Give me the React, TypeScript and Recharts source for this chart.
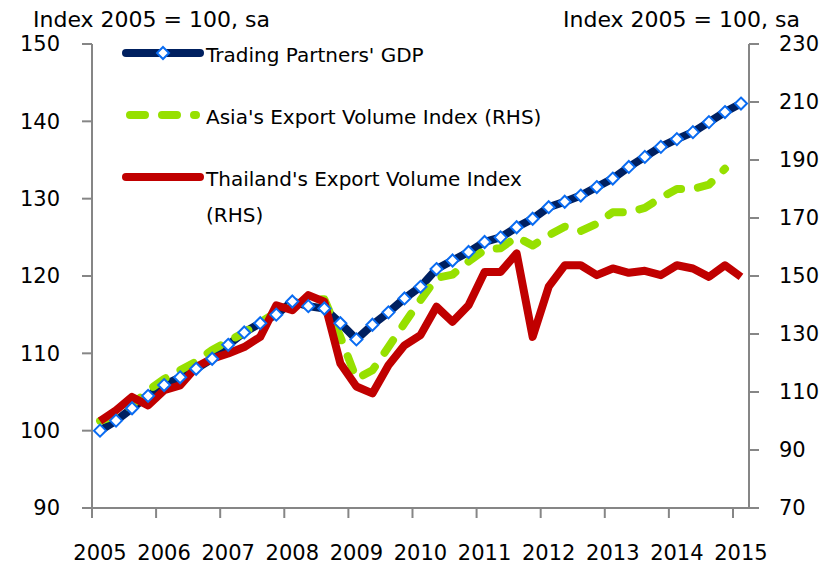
import { LineChart, Line, XAxis, YAxis, Legend } from 'recharts'

// quarterly, 2005Q1 .. 2015Q1
const quarters = [
  '2005Q1', '2005Q2', '2005Q3', '2005Q4', '2006Q1', '2006Q2', '2006Q3', '2006Q4',
  '2007Q1', '2007Q2', '2007Q3', '2007Q4', '2008Q1', '2008Q2', '2008Q3', '2008Q4',
  '2009Q1', '2009Q2', '2009Q3', '2009Q4', '2010Q1', '2010Q2', '2010Q3', '2010Q4',
  '2011Q1', '2011Q2', '2011Q3', '2011Q4', '2012Q1', '2012Q2', '2012Q3', '2012Q4',
  '2013Q1', '2013Q2', '2013Q3', '2013Q4', '2014Q1', '2014Q2', '2014Q3', '2014Q4',
  '2015Q1',
]

// left axis
const gdp = [
  100.0, 101.3, 102.9, 104.5, 105.9, 106.9, 108.0, 109.3, 111.1, 112.7, 113.9, 115.0,
  116.7, 116.1, 115.8, 113.9, 111.8, 113.7, 115.3, 117.1, 118.6, 120.9, 122.0, 123.1,
  124.4, 125.0, 126.3, 127.4, 128.9, 129.6, 130.4, 131.5, 132.6, 134.1, 135.4, 136.7,
  137.7, 138.6, 139.9, 141.2, 142.3,
]

// right axis (RHS)
const asia = [
  100, 102, 105.5, 110.5, 114.5, 117.5, 120.5, 124.5, 127.5, 130.5, 134, 137.5,
  140, 141.7, 142, 129, 114.5, 117.5, 125.5, 133.7, 141.7, 149.3, 150.5, 155,
  159, 159.6, 163.5, 160.5, 164, 167, 165.5, 168, 172, 172, 173.5, 177,
  180, 180, 181.5, 187,
]

const thailand = [
  100, 103.7, 108.3, 105.4, 110.6, 112.3, 118.6, 121.5, 123.3, 125.5, 129, 139.9,
  138.2, 143.4, 141.1, 119.8, 111.9, 109.5, 119.2, 126.1, 129.6, 139.4, 134.2, 139.9,
  151.4, 151.4, 157.8, 129, 146.3, 153.7, 153.7, 150.3, 152.6, 151.1, 151.8, 150.3,
  153.7, 152.6, 149.7, 153.7, 149.7,
]

const years = [2005, 2006, 2007, 2008, 2009, 2010, 2011, 2012, 2013, 2014, 2015]
const leftTicks = [90, 100, 110, 120, 130, 140, 150]
const rightTicks = [70, 90, 110, 130, 150, 170, 190, 210, 230]
const yTitle = 'Index 2005 = 100, sa'

const legendItems = [
  { key: 'gdp', lines: ["Trading Partners' GDP"] },
  { key: 'asia', lines: ["Asia's Export Volume Index (RHS)"] },
  { key: 'thai', lines: ["Thailand's Export Volume Index", '(RHS)'] },
]

const NAVY = '#002060'
const BLUE = '#0a6cf2'
const GREEN = '#96e000'
const RED = '#c00000'
const AXIS = '#868686'
const FONT = 'DejaVu Sans'

const data = quarters.map((q, i) => ({
  q,
  x: i + 0.5,
  gdp: gdp[i],
  asia: asia[i] ?? null,
  thai: thailand[i],
}))

const Diamond = (props: any) => {
  const { cx, cy, index } = props
  const r = 6
  return (
    <polygon
      key={`d-${index}`}
      points={`${cx},${cy - r} ${cx + r},${cy} ${cx},${cy + r} ${cx - r},${cy}`}
      fill="#fff"
      stroke={BLUE}
      strokeWidth={2}
    />
  )
}

function renderLegend() {
  return (
    <svg width={840} height={567} style={{ position: 'absolute', left: 0, top: 0 }}>
      {legendItems.map((item, k) => {
        const y = 53 + k * 62
        return (
          <g key={item.key}>
            {item.key === 'gdp' && (
              <>
                <line x1={126} x2={200} y1={y} y2={y} stroke={NAVY} strokeWidth={8} strokeLinecap="round" />
                <Diamond cx={163} cy={y} index={0} />
              </>
            )}
            {item.key === 'asia' && (
              <line x1={130} x2={196} y1={y} y2={y} stroke={GREEN} strokeWidth={8}
                strokeLinecap="round" strokeDasharray="15 17" />
            )}
            {item.key === 'thai' && (
              <line x1={126} x2={200} y1={y} y2={y} stroke={RED} strokeWidth={8} strokeLinecap="round" />
            )}
            {item.lines.map((t, j) => (
              <text key={j} x={206} y={y + 2 + j * 36} fontSize={20} fontFamily={FONT}
                fill="#000" dominantBaseline="central">
                {t}
              </text>
            ))}
          </g>
        )
      })}
    </svg>
  )
}

export default function App() {
  const tickStyle = { fontSize: 21, fill: '#000', fontFamily: FONT }
  return (
    <div style={{ position: 'absolute', left: 0, top: 0, width: 840, height: 567, background: '#fff' }}>
      <LineChart width={840} height={567} data={data} margin={{ top: 44, right: 0, left: 0, bottom: 0 }}>
        <XAxis
          dataKey="x"
          type="number"
          domain={[0, 41]}
          ticks={years.map((_, k) => k * 4)}
          tickFormatter={(t) => String(2005 + t / 4)}
          interval={0}
          height={59}
          tick={{ ...tickStyle, dx: 8 }}
          tickSize={10}
          tickMargin={27}
          stroke={AXIS}
          strokeWidth={2}
          allowDataOverflow
        />
        <YAxis
          yAxisId="left"
          domain={[90, 150]}
          ticks={leftTicks}
          interval={0}
          width={92}
          tick={tickStyle}
          tickSize={10}
          tickMargin={22}
          stroke={AXIS}
          strokeWidth={2}
        />
        <YAxis
          yAxisId="right"
          orientation="right"
          domain={[70, 230]}
          ticks={rightTicks}
          interval={0}
          width={91}
          tick={tickStyle}
          tickSize={10}
          tickMargin={20}
          stroke={AXIS}
          strokeWidth={2}
        />
        <Legend
          layout="vertical"
          align="center"
          verticalAlign="middle"
          content={renderLegend}
          wrapperStyle={{ left: 0, top: 0, width: 840, height: 567, pointerEvents: 'none' }}
        />
        <Line
          yAxisId="left"
          dataKey="gdp"
          name="Trading Partners' GDP"
          stroke={NAVY}
          strokeWidth={8}
          dot={Diamond}
          activeDot={false}
          isAnimationActive={false}
        />
        <Line
          yAxisId="right"
          dataKey="asia"
          name="Asia's Export Volume Index (RHS)"
          stroke={GREEN}
          strokeWidth={8}
          strokeDasharray="15 17"
          strokeLinecap="round"
          strokeLinejoin="round"
          dot={false}
          activeDot={false}
          isAnimationActive={false}
        />
        <Line
          yAxisId="right"
          dataKey="thai"
          name="Thailand's Export Volume Index (RHS)"
          stroke={RED}
          strokeWidth={8}
          strokeLinejoin="round"
          dot={false}
          activeDot={false}
          isAnimationActive={false}
        />
      </LineChart>
      <svg width={840} height={40} style={{ position: 'absolute', left: 0, top: 0 }}>
        <text x={33} y={27} fontSize={22} fontFamily={FONT} fill="#000">{yTitle}</text>
        <text x={563} y={27} fontSize={22} fontFamily={FONT} fill="#000">{yTitle}</text>
      </svg>
    </div>
  )
}
